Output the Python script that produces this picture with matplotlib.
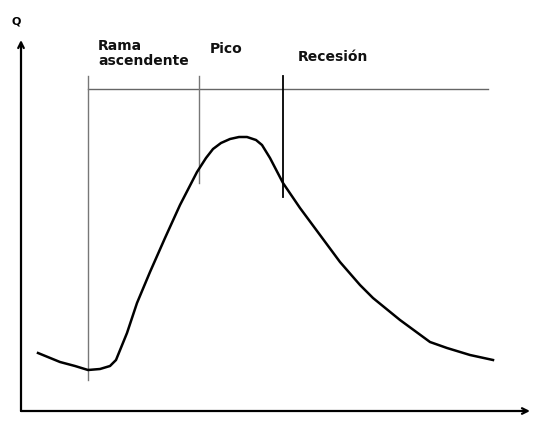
import matplotlib
matplotlib.use("Agg")
import matplotlib.pyplot as plt

# hydrograph curve (t, Q), origin at the axes corner
t = [17, 39, 54, 67, 79, 89, 95, 106, 116, 129, 144, 159, 176, 185, 192, 200, 209, 218, 226, 235, 241, 249, 262, 279, 299, 319, 339, 352, 379, 409, 426, 449, 472]
Q = [58, 49, 45, 41, 42, 45, 51, 78, 108, 139, 173, 206, 239, 253, 262, 268, 272, 274, 274, 271, 266, 253, 228, 203, 176, 149, 126, 113, 91, 69, 63, 56, 51]

# reference lines
topLine = 322
topLineStart = 67
topLineEnd = 467
riseX = 67
riseBottom = 41
peakX = 178
peakBottom = 228
recessX = 262
recessBottom = 214
lineTop = 335

labels = ["Rama\nascendente", "Pico", "Recesión"]
labelX = [77, 189, 277]
labelY = [372, 369, 361]

fig = plt.figure(figsize=(5.36, 4.36), dpi=100)
ax = fig.add_axes([21/536, 25/436, 509/536, 371/436])
ax.set_xlim(0, 509)
ax.set_ylim(0, 371)
ax.axis("off")

# axes with arrows
ax.annotate("", xy=(509, 0), xytext=(0, 0),
            arrowprops=dict(arrowstyle="->", color="black", lw=1.6, shrinkA=0, shrinkB=0))
ax.annotate("", xy=(0, 371), xytext=(0, 0),
            arrowprops=dict(arrowstyle="->", color="black", lw=1.6, shrinkA=0, shrinkB=0))

ax.plot([topLineStart, topLineEnd], [topLine, topLine], color="#666666", lw=1.0)
ax.plot([riseX, riseX], [riseBottom - 10, lineTop], color="#777777", lw=1.0)
ax.plot([peakX, peakX], [peakBottom, lineTop], color="#777777", lw=1.0)
ax.plot([recessX, recessX], [recessBottom, lineTop], color="black", lw=1.3)

ax.plot(t, Q, color="black", lw=1.8)

for lab, x, y in zip(labels, labelX, labelY):
    ax.text(x, y, lab, fontsize=10, fontweight="bold", ha="left", va="top",
            linespacing=1.05, clip_on=False, color="#111111")

fig.text(12/536, 1 - 24/436, "Q", fontsize=8, fontweight="bold")

fig.savefig("out.png", dpi=100)
